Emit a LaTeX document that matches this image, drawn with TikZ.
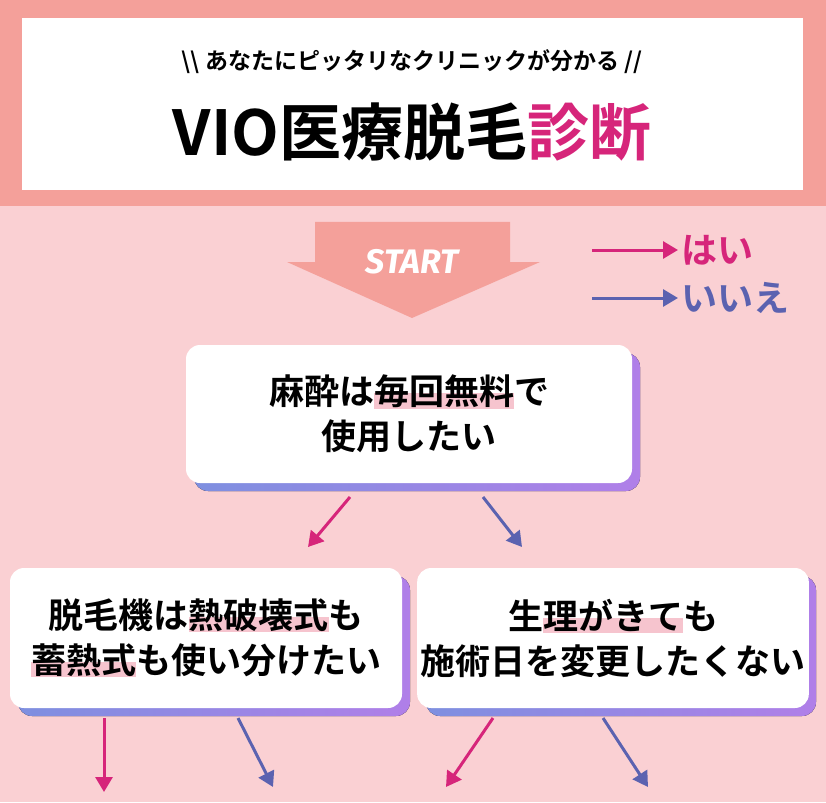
\documentclass[tikz,border=0pt]{standalone}
\usepackage{fontspec}
\setmainfont{Noto Sans CJK JP}[BoldFont={* Bold}]
\newfontfamily\startfont{Fira Sans}
\usetikzlibrary{arrows.meta,positioning}
\definecolor{bandcol}{RGB}{244,160,154}
\definecolor{bgcol}{RGB}{250,208,211}
\definecolor{yescol}{RGB}{214,37,122}
\definecolor{nocol}{RGB}{91,98,176}
\definecolor{hlcol}{RGB}{246,196,206}
\definecolor{shleft}{RGB}{126,143,224}
\definecolor{shright}{RGB}{176,127,232}
\newcommand{\hlt}[1]{\setbox0\hbox{#1}\rlap{\color{hlcol}\rule[-0.12em]{\wd0}{0.45em}}\box0}
\tikzset{qbox/.style={draw=none,fill=white,rounded corners=14pt,align=center,text=black,
    font=\fontsize{35}{45}\selectfont\bfseries}}
\tikzset{shadowbox/.style={rounded corners=14pt,left color=shleft,right color=shright}}
\tikzset{yes/.style={yescol,line width=3pt,-{Triangle[length=15pt,width=17pt]}}}
\tikzset{no/.style={nocol,line width=3pt,-{Triangle[length=15pt,width=17pt]}}}
\begin{document}
\begin{tikzpicture}[x=1pt,y=-1pt]
\useasboundingbox (0,0) rectangle (826,802);
\fill[bgcol] (0,0) rectangle (826,802);
\fill[bandcol] (0,0) rectangle (826,206);
\fill[white] (22,18) rectangle (803,190);

\node (sub) at (412,62) {\fontsize{23}{26}\selectfont\bfseries \textbackslash\textbackslash\ あなたにピッタリなクリニックが分かる //};
\node (title) at (412,132) {\fontsize{62}{66}\selectfont\bfseries VIO医療脱毛\textcolor{yescol}{診断}};

% start arrow
\fill[bandcol] (315,222) -- (510,222) -- (510,262) -- (540,262) -- (412,318) -- (287,262) -- (315,262) -- cycle;
\node[text=white] (start) at (412,262) {\startfont\fontsize{34}{36}\selectfont\bfseries\itshape START};

% legend
\node[text=yescol,anchor=west] (yes) at (678,250) {\fontsize{36}{38}\selectfont\bfseries はい};
\node[text=nocol,anchor=west] (no) at (678,298) {\fontsize{36}{38}\selectfont\bfseries いいえ};
\coordinate (yesL) at (592,250);
\coordinate (noL) at (592,298);
\draw[yes] (yesL) -- (yes.west);
\draw[no] (noL) -- (no.west);

% boxes
\fill[shadowbox] (194,353) rectangle (640,491);
\node[qbox,minimum width=446pt,minimum height=138pt] (q1) at (409,414) {麻酔は\hlt{毎回無料}で\\使用したい};
\fill[shadowbox] (18,576) rectangle (410,716);
\node[qbox,minimum width=392pt,minimum height=140pt] (q2) at (206,638) {脱毛機は\hlt{熱破壊式}も\\\hlt{蓄熱式}も使い分けたい};
\fill[shadowbox] (426,576) rectangle (816,716);
\node[qbox,minimum width=390pt,minimum height=140pt] (q3) at (613,638) {生\hlt{理がきて}も\\施術日を変更したくない};

% connectors
\coordinate (a1) at (350,497); \coordinate (b1) at (308,547);
\coordinate (a2) at (483,497); \coordinate (b2) at (522,547);
\draw[yes] (a1) -- (b1);
\draw[no] (a2) -- (b2);
\coordinate (c1) at (104,718); \coordinate (d1) at (104,792);
\coordinate (c2) at (238,718); \coordinate (d2) at (273,787);
\coordinate (c3) at (493,718); \coordinate (d3) at (446,787);
\coordinate (c4) at (603,718); \coordinate (d4) at (648,787);
\draw[yes] (c1) -- (d1);
\draw[no] (c2) -- (d2);
\draw[yes] (c3) -- (d3);
\draw[no] (c4) -- (d4);
\end{tikzpicture}
\end{document}
